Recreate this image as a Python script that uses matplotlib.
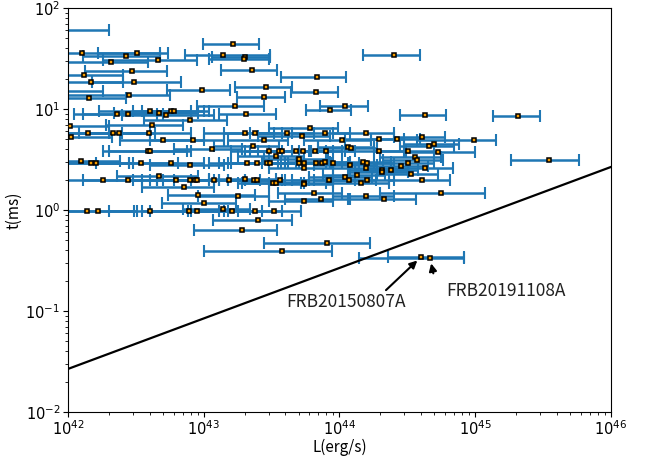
import numpy as np
import matplotlib
matplotlib.use("Agg")
import matplotlib.pyplot as plt

# luminosity in units of 1e42 erg/s, duration in ms, with bar ends
L = [0.8, 16.3, 1.27, 3.25, 2.67, 4.6, 2.06, 13.8, 20, 19.7,
     2.95, 1.31, 22.6, 1.48, 3.05, 9.7, 28.7, 0.7, 1.44, 2.8,
     28, 16.9, 68, 67, 251, 109, 85, 425, 2050,
     4.0, 4.7, 5.7, 6.0, 2.28, 2.75, 5.3, 20.4, 7.9, 1.03,
     4.15, 1.41, 2.16, 2.36, 3.97, 20, 24, 41, 1.05, 5.0,
     8.4, 23, 27.6, 61, 78, 156, 53, 104, 195, 265,
     405, 980, 460, 495,
     3.9, 4.0, 11.5, 30.5, 35.6, 37.6, 47.5, 33.8, 54, 66,
     80, 115, 121, 195, 318, 530, 357, 372, 3480, 1.24,
     1.49, 1.61, 3.43, 5.7, 7.9, 21, 24.7, 29, 31, 50,
     50.5, 54.5, 67, 74, 78, 89.5, 120, 150, 160, 55,
     157, 205, 205, 238, 283, 318, 427, 4.7, 335,
     1.8, 2.78, 6.3, 7.9, 8.6, 8.9, 12.0, 15.4, 20, 23.5,
     24.8, 32.5, 33.8, 36.6, 7.2, 110, 117, 134, 83, 144,
     160, 405, 55, 55, 65, 555, 9.1, 17.9, 10.1, 157,
     55, 73, 213,
     1.37, 1.66, 4.04, 7.8, 8.95, 13.8, 16.1, 24, 33, 25,
     19, 38, 81, 401, 464]
t = [60, 44, 36, 36, 33.6, 30.6, 29.5, 34, 33, 31,
     23.7, 21.6, 24.2, 18.7, 18.7, 15.5, 16.7, 15, 12.8, 13.7,
     13.2, 10.6, 20.8, 14.8, 34.3, 10.7, 9.8, 8.8, 8.5,
     9.6, 9.2, 9.6, 9.6, 8.9, 8.9, 8.8, 8.9, 7.8, 6.8,
     6.9, 5.8, 5.8, 5.8, 5.8, 5.8, 5.8, 5.8, 5.3, 4.9,
     4.9, 4.3, 4.9, 6.5, 5.8, 5.8, 5.4, 4.9, 5.0, 5.0,
     5.3, 4.9, 4.3, 4.5,
     3.86, 3.86, 4.0, 3.86, 3.86, 3.86, 3.86, 3.45, 3.86, 3.86,
     3.86, 4.2, 4.1, 3.86, 3.86, 3.77, 3.35, 3.14, 3.15, 3.05,
     2.93, 2.93, 2.93, 2.93, 2.78, 2.93, 2.93, 2.9, 2.93, 2.93,
     3.2, 2.9, 2.9, 2.93, 2.96, 2.9, 2.78, 2.96, 2.9, 2.6,
     2.6, 2.5, 2.4, 2.5, 2.7, 2.9, 2.6, 2.17, 2.25,
     1.96, 1.96, 1.96, 1.96, 1.96, 1.96, 1.96, 1.96, 2.04, 1.96,
     1.96, 1.87, 1.87, 1.96, 1.7, 2.1, 1.96, 2.2, 1.96, 1.87,
     1.96, 1.98, 1.87, 1.8, 1.48, 1.48, 1.42, 1.39, 1.18, 1.39,
     1.22, 1.29, 1.29,
     0.97, 0.97, 0.97, 0.97, 0.97, 1.03, 0.97, 0.98, 0.97, 0.79,
     0.63, 0.39, 0.47, 0.345, 0.335]
L_lo = [0.3, 9.8, 0.4, 1.65, 1.3, 1.8, 0.8, 7.3, 11.5, 11,
        1.33, 0.5, 13.5, 0.6, 1.5, 5.4, 16.9, 0.3, 0.9, 0.9,
        17.5, 8.9, 37, 44, 148, 72, 57, 277, 1350,
        1.7, 2.2, 3.0, 3.5, 1.3, 1.1, 2.5, 13, 3.6, 0.4,
        1.9, 0.6, 1.0, 1.2, 2.0, 10, 14, 22, 0.4, 2.4,
        4.0, 12, 15, 30, 45, 90, 25, 55, 110, 170,
        250, 370, 280, 300,
        1.8, 2.0, 6, 16, 20, 22, 25, 18, 30, 38,
        45, 70, 70, 110, 180, 300, 200, 210, 1820, 0.5,
        0.6, 0.7, 1.6, 2.8, 4, 11, 13, 15, 16, 27,
        28, 30, 37, 40, 42, 50, 65, 85, 90, 30,
        90, 115, 120, 130, 160, 180, 240, 2.3, 190,
        0.8, 1.3, 3, 4, 4.5, 4.5, 6, 8, 11, 12,
        13, 18, 19, 20, 3.5, 60, 65, 75, 45, 80,
        90, 230, 30, 30, 35, 200, 5.5, 9, 4.9, 90,
        30, 40, 120,
        0.6, 0.8, 2.0, 3.5, 4, 7, 8, 13, 18, 11.7,
        8.5, 10, 28, 229, 140]
L_hi = [2.0, 25.5, 4.8, 5.5, 4.8, 8.9, 3.9, 30.6, 31, 30,
        5.4, 2.55, 34.6, 2.55, 6.75, 15.6, 44.5, 1.8, 2.66, 5.6,
        40, 27.8, 112, 98, 395, 163, 121, 610, 3000,
        8, 9, 10, 11, 4.5, 5.0, 12, 34, 14.8, 2.0,
        7.0, 2.5, 4.0, 4.4, 8.0, 33, 38, 65, 2.1, 10,
        14, 36, 42, 97, 120, 250, 85, 170, 300, 390,
        600, 1420, 700, 760,
        7.5, 8, 19, 50, 60, 62, 80, 55, 90, 105,
        130, 180, 190, 310, 500, 1000, 560, 580, 5800, 2.4,
        2.8, 3.0, 6.5, 10, 14, 35, 40, 48, 50, 80,
        82, 88, 105, 115, 120, 140, 190, 240, 250, 90,
        250, 320, 320, 380, 450, 500, 680, 9, 530,
        3.5, 5, 11, 13, 15, 15, 20, 26, 34, 38,
        40, 52, 55, 60, 12, 175, 185, 215, 130, 230,
        250, 650, 90, 90, 105, 1180, 24, 30, 17.4, 250,
        90, 115, 365,
        3.06, 3.24, 7.6, 14, 15, 22, 27, 38, 52, 44.8,
        34.6, 88, 168, 820, 820]

# boundary line t = a * (L/1e42)^b
line_a = 0.0267
line_b = 0.5

L = np.array(L) * 1e42
lo = np.array(L_lo) * 1e42
hi = np.array(L_hi) * 1e42
t = np.array(t)

fig = plt.figure(figsize=(6.45, 4.58), dpi=100)
ax = fig.add_axes([0.1054, 0.1004, 0.8419, 0.8821])

ax.errorbar(L, t, xerr=[L - lo, hi - L], fmt='none', ecolor='#1f77b4',
            elinewidth=1.8, capsize=4.5, capthick=1.5, zorder=2)
ax.plot(L, t, 's', ms=3.4, mfc='#f59b00', mec='black', mew=1.1,
        linestyle='none', zorder=3)

xl = np.logspace(42, 46, 50)
ax.plot(xl, line_a * (xl / 1e42) ** line_b, color='black', lw=1.6, zorder=4)

ax.set_xscale('log')
ax.set_yscale('log')
ax.set_xlim(1e42, 1e46)
ax.set_ylim(1e-2, 1e2)
ax.tick_params(labelsize=10.5, pad=2)

lab_font = ['Noto Sans CJK SC', 'DejaVu Sans']
ax.set_xlabel('L(erg/s)', fontsize=11, family=lab_font, labelpad=0)
ax.set_ylabel('t(ms)', fontsize=11, family=lab_font, labelpad=2)

arrow = dict(arrowstyle='-|>', color='black', lw=1.5, mutation_scale=11,
             shrinkA=0, shrinkB=4)
ax.annotate('', xy=(L[-2], t[-2]), xytext=(2.2e44, 0.161), arrowprops=arrow)
ax.annotate('', xy=(L[-1], t[-1]), xytext=(4.91e44, 0.236), arrowprops=arrow)
ax.text(1.12e44, 0.123, 'FRB20150807A', ha='center', va='center',
        fontsize=12.5, color='#222222', family=lab_font)
ax.text(1.69e45, 0.158, 'FRB20191108A', ha='center', va='center',
        fontsize=12.5, color='#222222', family=lab_font)

fig.savefig('out.png', dpi=100)
